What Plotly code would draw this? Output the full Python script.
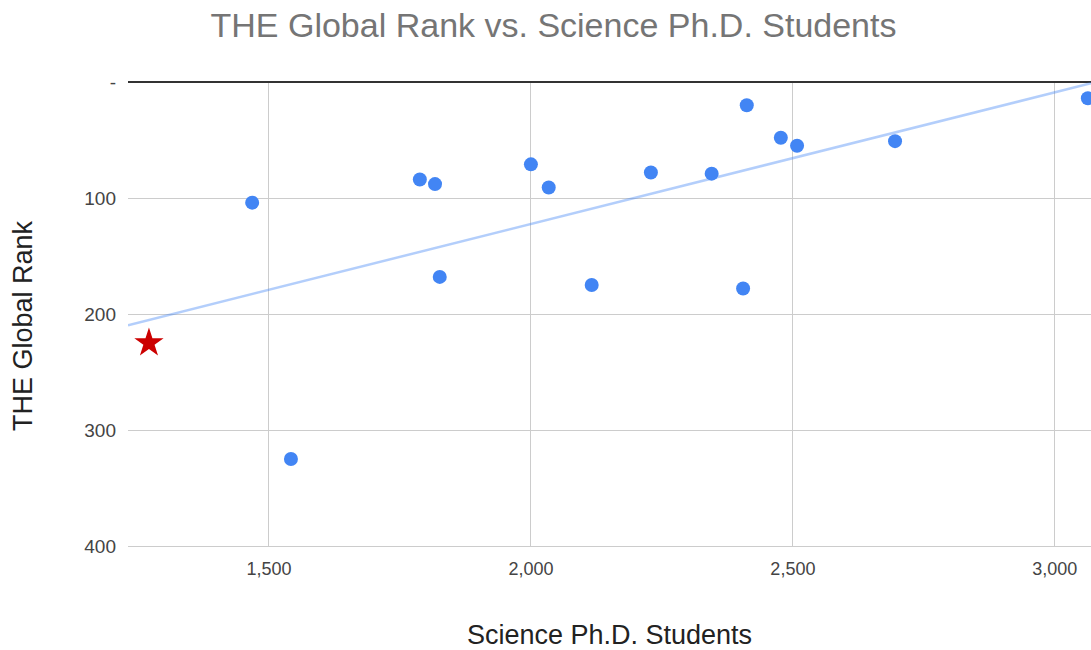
import numpy as np
import plotly.graph_objects as go

# Science Ph.D. students vs. THE global rank
phd_students = [1468, 1542, 1788, 1817, 1826, 2000, 2034, 2116, 2229, 2345,
                2405, 2412, 2477, 2508, 2695, 3063]
global_rank = [104, 325, 84, 88, 168, 71, 91, 175, 78, 79,
               178, 20, 48, 55, 51, 14]

# Highlighted institution
star_students = [1271]
star_rank = [225]

x_ticks = [1500, 2000, 2500, 3000]
x_ticktext = ["1,500", "2,000", "2,500", "3,000"]
y_ticks = [0, 100, 200, 300, 400]
y_ticktext = ["-", "100", "200", "300", "400"]

x_range = [1231, 3069]

W, H = 1091, 650

# Linear trendline fitted to all institutions
all_x = phd_students + star_students
all_y = global_rank + star_rank
slope, intercept = np.polyfit(all_x, all_y, 1)
trend_x = np.array(x_range)
trend_y = slope * trend_x + intercept

fig = go.Figure()
fig.add_trace(go.Scatter(
    x=trend_x, y=trend_y, mode="lines",
    line=dict(color="rgba(66,133,244,0.4)", width=2.5),
    hoverinfo="skip", showlegend=False,
))
fig.add_trace(go.Scatter(
    x=phd_students, y=global_rank, mode="markers",
    marker=dict(color="#4285F4", size=14, line=dict(width=0)),
    showlegend=False,
))
fig.add_trace(go.Scatter(
    x=star_students, y=star_rank, mode="markers",
    marker=dict(color="#CC0000", size=22, symbol="star", line=dict(width=0)),
    showlegend=False,
))

fig.update_layout(
    width=W, height=H,
    margin=dict(l=128, r=0, t=82, b=104),
    paper_bgcolor="white", plot_bgcolor="white",
    font=dict(family="Liberation Sans, Arial, sans-serif", color="#444444"),
    title=dict(
        text="THE Global Rank vs. Science Ph.D. Students",
        xref="container", x=553.5 / W, xanchor="center",
        yref="container", y=1 - 25 / H, yanchor="middle",
        font=dict(size=34, color="#757575"),
    ),
    xaxis=dict(
        range=x_range,
        tickvals=x_ticks, ticktext=x_ticktext,
        tickfont=dict(size=18, color="#444444"),
        showgrid=True, gridcolor="#cccccc", gridwidth=1,
        zeroline=False, showline=True, linecolor="#cccccc", linewidth=1,
        ticks="", ticklabelstandoff=6,
        title=dict(text="Science Ph.D. Students",
                   font=dict(size=27, color="#222222"), standoff=48),
    ),
    yaxis=dict(
        range=[400, 0],
        tickvals=y_ticks, ticktext=y_ticktext,
        tickfont=dict(size=19, color="#444444"),
        showgrid=True, gridcolor="#cccccc", gridwidth=1,
        zeroline=True, zerolinecolor="#333333", zerolinewidth=1.5,
        showline=False, ticks="", ticklabelstandoff=11,
    ),
    annotations=[dict(
        text="THE Global Rank", textangle=-90,
        xref="paper", yref="paper",
        x=(23 - 128) / (W - 128), y=(H - 104 - 326) / (H - 82 - 104),
        xanchor="center", yanchor="middle", showarrow=False,
        font=dict(size=27, color="#222222"),
    )],
)

fig.write_html("out.html")
